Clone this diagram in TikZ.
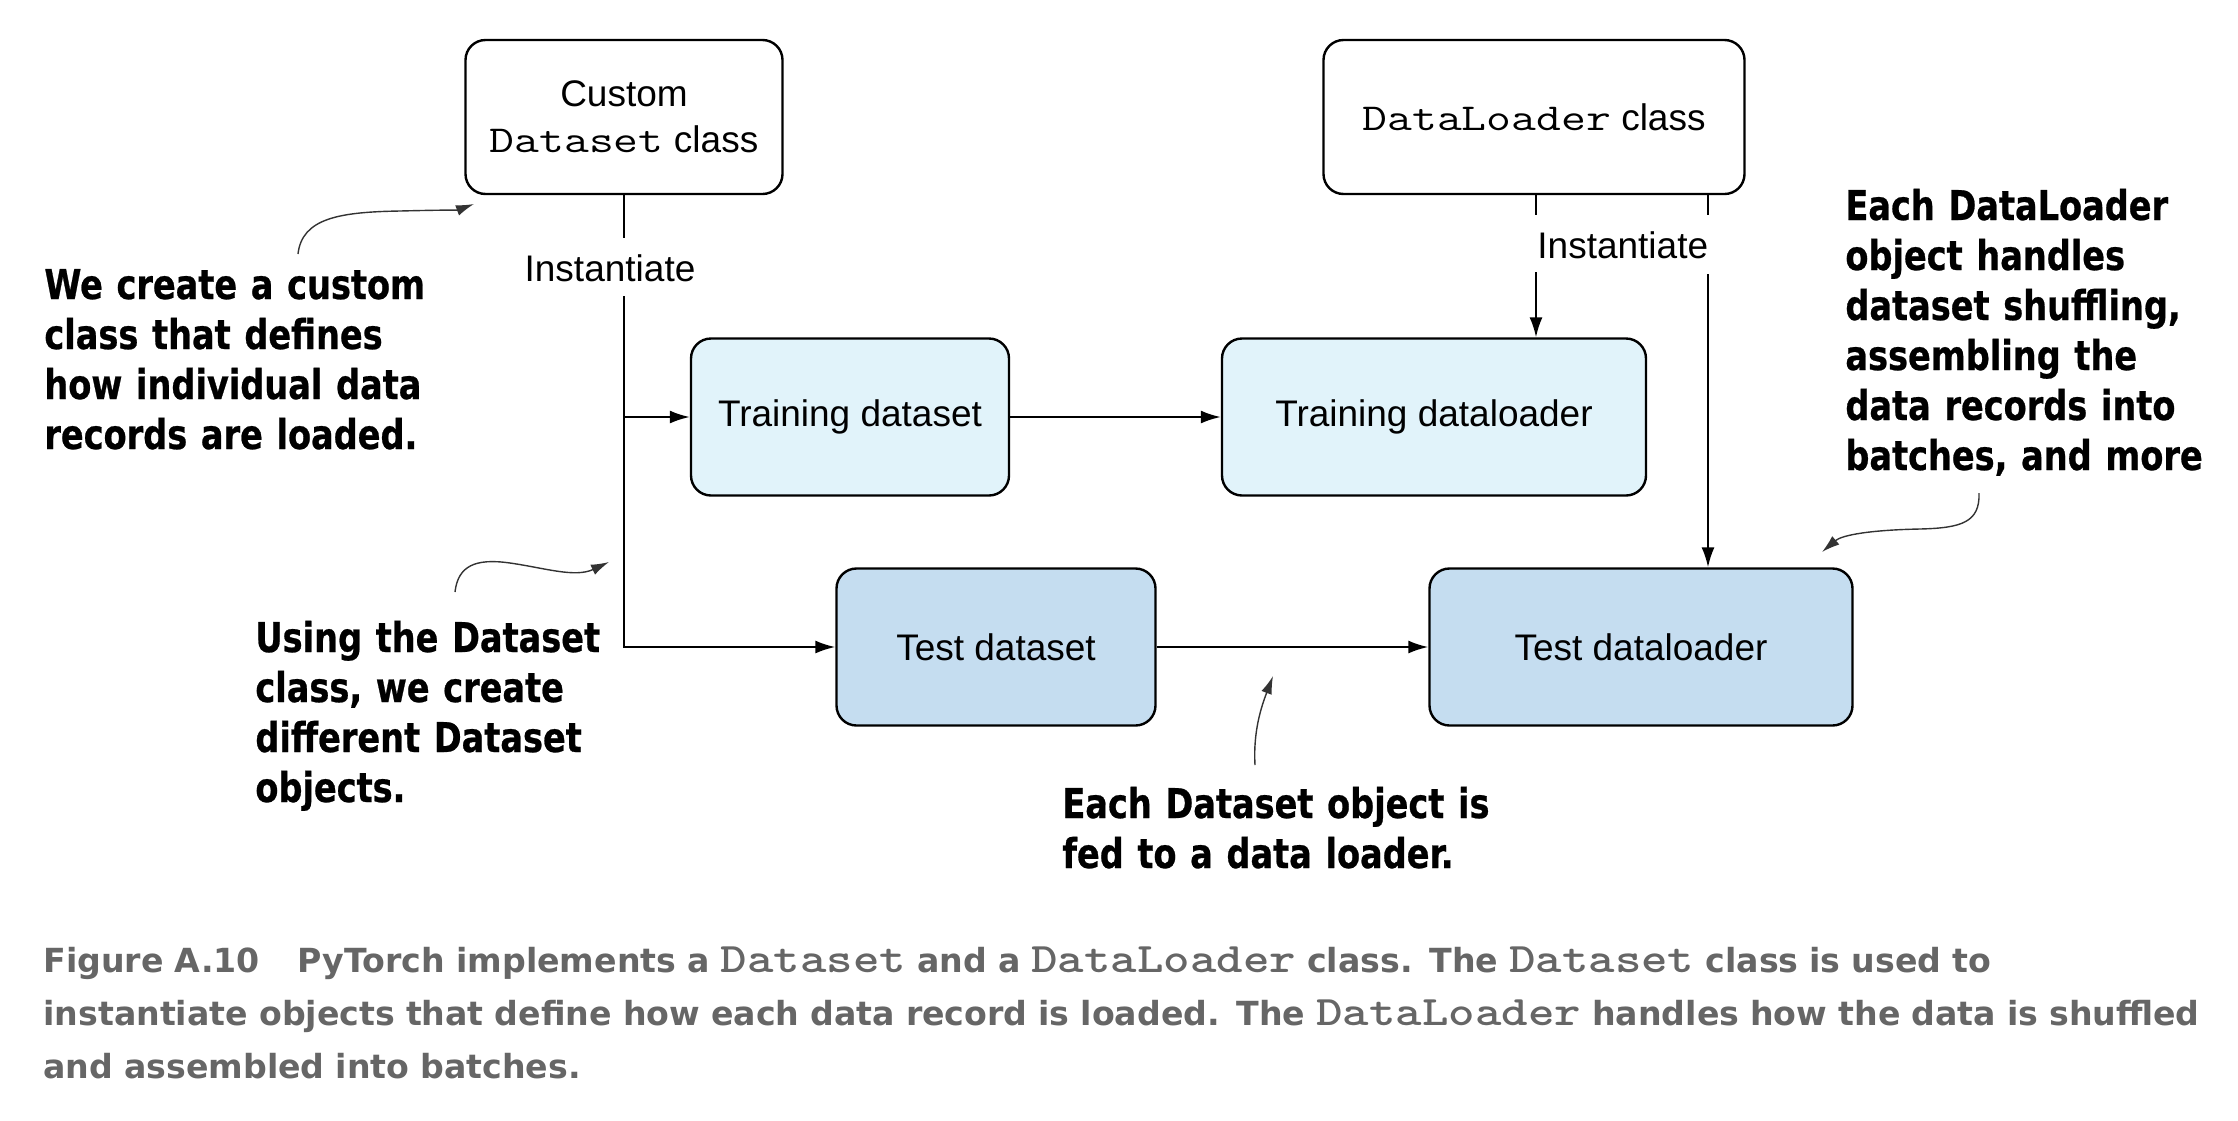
\documentclass[tikz,border=0pt]{standalone}
\usepackage{fontspec}
\setmainfont{Liberation Sans}
\newfontfamily\annfont[FakeStretch=0.91,FakeBold=0.6]{DejaVu Sans Condensed Bold}
\newfontfamily\capfont{DejaVu Sans Bold}
\newfontfamily\boxmono[FakeStretch=1.27]{Latin Modern Mono}
\newfontfamily\capmono[FakeStretch=1.2]{lmmonolt10-bold.otf}
\usetikzlibrary{arrows.meta}
\definecolor{trainfill}{RGB}{225,243,250}
\definecolor{testfill}{RGB}{197,221,240}
\definecolor{anncol}{RGB}{51,51,51}
\definecolor{capcol}{RGB}{102,102,102}
\newcommand{\boxtt}[1]{{\boxmono\fontsize{19}{23}\selectfont #1}}
\newcommand{\captt}[1]{{\capmono\fontsize{21}{26.5}\selectfont #1}}
\tikzset{
  box/.style={draw=black, line width=1.2pt, rounded corners=10pt, align=center,
    font=\fontsize{18.5}{23}\selectfont, inner sep=0pt},
  conn/.style={line width=1pt, draw=black},
  arr/.style={conn, -{Latex[length=10pt,width=6.5pt]}},
  ann/.style={draw=anncol, line width=0.7pt, -{Latex[length=9pt,width=5.5pt]}, color=anncol},
  anntext/.style={font=\annfont\fontsize{20.5}{25}\selectfont, align=left, anchor=base west,
    inner sep=0pt, text width=240pt},
  lbl/.style={font=\fontsize{18.5}{23}\selectfont, inner sep=0pt},
  captext/.style={font=\capfont\fontsize{16.6}{26.5}\selectfont, text=capcol, align=left,
    anchor=base west, inner sep=0pt, text width=1110pt}
}
\begin{document}
\begin{tikzpicture}[x=0.5pt,y=-0.5pt]
\useasboundingbox (0,0) rectangle (2238,1120);

% boxes
\node[box, minimum width=158.5pt, minimum height=77pt] (cds) at (624,117)
  {Custom\\\boxtt{Dataset} class};
\node[box, minimum width=210.5pt, minimum height=77pt] (dlc) at (1534,117)
  {\boxtt{DataLoader} class};
\node[box, fill=trainfill, minimum width=159pt, minimum height=78.5pt] (trainds) at (850,417)
  {Training dataset};
\node[box, fill=trainfill, minimum width=212pt, minimum height=78.5pt] (traindl) at (1434,417)
  {Training dataloader};
\node[box, fill=testfill, minimum width=159.5pt, minimum height=78.5pt] (testds) at (996,647)
  {Test dataset};
\node[box, fill=testfill, minimum width=211.5pt, minimum height=78.5pt] (testdl) at (1641,647)
  {Test dataloader};

% left instantiate
\node[lbl] (inst1) at (610,268) {Instantiate};
\coordinate (c1) at (624,238);
\coordinate (c2) at (624,296);
\coordinate (jt) at (624,417);
\coordinate (jb) at (624,647);
\draw[conn] (cds.south -| c1) -- (c1);
\draw[arr] (c2) -- (jb) -- (testds.west);
\draw[arr] (jt) -- (trainds.west);

% right instantiate
\node[lbl, anchor=west] (inst2) at (1537,245) {Instantiate};
\coordinate (d1) at (1536,215);
\coordinate (d2) at (1536,272);
\coordinate (e1) at (1708,215);
\coordinate (e2) at (1708,274);
\draw[conn] (dlc.south -| d1) -- (d1);
\draw[arr] (d2) -- (traindl.north -| d2);
\draw[conn] (dlc.south -| e1) -- (e1);
\draw[arr] (e2) -- (testdl.north -| e2);

% horizontal flows
\draw[arr] (trainds.east) -- (traindl.west);
\draw[arr] (testds.east) -- (testdl.west);

% annotations
\node[anntext] (annA) at (44,299) {We create a custom\\class that defines\\how individual data\\records are loaded.};
\node[anntext] (annB) at (255,652) {Using the Dataset\\class, we create\\different Dataset\\objects.};
\node[anntext] (annC) at (1062,818) {Each Dataset object is\\fed to a data loader.};
\node[anntext] (annD) at (1845,220) {Each DataLoader\\object handles\\dataset shuffling,\\assembling the\\data records into\\batches, and more};

\coordinate (aA1) at (298,254);
\coordinate (aA2) at (474,204);
\draw[ann] (aA1) .. controls (302,218) and (340,212) .. (400,211) .. controls (440,210) and (458,210) .. (aA2);
\coordinate (aB1) at (455,592);
\coordinate (aB2) at (609,562);
\draw[ann] (aB1) .. controls (458,566) and (475,558) .. (510,563) .. controls (545,568) and (575,578) .. (aB2);
\coordinate (aC1) at (1255,765);
\coordinate (aC2) at (1273,676);
\draw[ann] (aC1) .. controls (1253,730) and (1262,705) .. (aC2);
\coordinate (aD1) at (1979,493);
\coordinate (aD2) at (1822,552);
\draw[ann] (aD1) .. controls (1980,522) and (1962,528) .. (1920,529) .. controls (1870,530) and (1842,535) .. (aD2);

% caption
\node[captext] (cap) at (43,972) {Figure A.10\hspace{19pt}PyTorch implements a \captt{Dataset} and a \captt{DataLoader} class. The \captt{Dataset} class is used to\\
instantiate objects that define how each data record is loaded. The \captt{DataLoader} handles how the data is shuffled\\
and assembled into batches.};
\end{tikzpicture}
\end{document}
